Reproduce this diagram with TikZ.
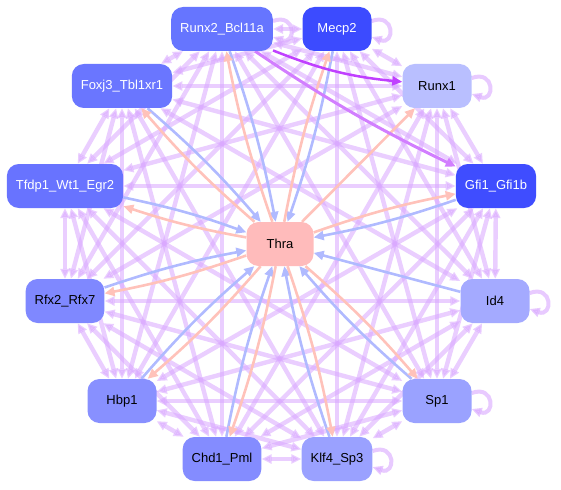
\documentclass[tikz,border=0pt]{standalone}
\usepackage{fontspec}
\setmainfont{Liberation Sans}
\usetikzlibrary{arrows.meta, backgrounds}

\definecolor{webc}{HTML}{D8A6FF}
\definecolor{upc}{HTML}{B0BAFF}
\definecolor{downc}{HTML}{FFC2BA}
\definecolor{strongc}{HTML}{C040FF}
\definecolor{midc}{HTML}{D27EFF}

\begin{document}
\begin{tikzpicture}[
  x=1pt, y=-1pt,
  font=\fontsize{13}{15}\selectfont,
  >={Triangle[length=10pt,width=9pt]},
  gene/.style    ={rounded corners=12pt, minimum height=44pt, minimum width=69pt, inner xsep=9pt, align=center},
  web/.style     ={draw=webc, line width=4.4pt, opacity=0.55, <->},
  selfloop/.style={draw=webc, line width=4pt, opacity=0.6, ->, looseness=4},
  toThra/.style  ={draw=upc, line width=2.6pt, ->},
  fromThra/.style={draw=downc, line width=2.6pt, ->},
]
\useasboundingbox (0,0) rectangle (561,489);

% ---------- ring of regulators ----------
\node[gene, fill={rgb,255:red,102;green,117;blue,255}, text=white] (runxb)  at (222,29)  {Runx2\_Bcl11a};
\node[gene, fill={rgb,255:red,60;green,75;blue,255},   text=white] (mecp)   at (337,29)  {Mecp2};
\node[gene, fill={rgb,255:red,185;green,191;blue,255}]             (runxa)  at (437,86)  {Runx1};
\node[gene, fill={rgb,255:red,63;green,77;blue,255},   text=white] (gfi)    at (496,186) {Gfi1\_Gfi1b};
\node[gene, fill={rgb,255:red,164;green,170;blue,255}]             (idfour) at (495,301) {Id4};
\node[gene, fill={rgb,255:red,154;green,162;blue,255}]             (spone)  at (437,401) {Sp1};
\node[gene, fill={rgb,255:red,154;green,161;blue,255}]             (klf)    at (337,459) {Klf4\_Sp3};
\node[gene, fill={rgb,255:red,132;green,140;blue,255}]             (chd)    at (222,459) {Chd1\_Pml};
\node[gene, fill={rgb,255:red,136;green,144;blue,255}]             (hbp)    at (122,401) {Hbp1};
\node[gene, fill={rgb,255:red,127;green,136;blue,255}]             (rfx)    at (65,301)  {Rfx2\_Rfx7};
\node[gene, fill={rgb,255:red,104;green,115;blue,255}, text=white] (tfdp)   at (65,186)  {Tfdp1\_Wt1\_Egr2};
\node[gene, fill={rgb,255:red,106;green,118;blue,255}, text=white] (foxj)   at (122,86)  {Foxj3\_Tbl1xr1};

% ---------- hub ----------
\node[gene, fill={rgb,255:red,255;green,187;blue,187}, minimum width=67pt] (thra) at (280,244) {Thra};

\begin{scope}[on background layer]
% mutual links round the ring (opposite pairs left out)
\foreach \a [count=\i] in {runxb,mecp,runxa,gfi,idfour,spone,klf,chd,hbp,rfx,tfdp,foxj}
  \foreach \b [count=\j] in {runxb,mecp,runxa,gfi,idfour,spone,klf,chd,hbp,rfx,tfdp,foxj}
  {
    \pgfmathtruncatemacro\gap{\j-\i}
    \ifnum\gap>0 \ifnum\gap=6 \else \draw[web] (\a) -- (\b); \fi\fi
  }

% self regulation
\foreach \g in {runxb,mecp,runxa,idfour,spone,klf}
  \draw[selfloop] ([yshift=8pt]\g.east) to[out=20, in=-20] ([yshift=-8pt]\g.east);

% hub links
\foreach \g in {runxb,mecp,gfi,spone,klf,chd,hbp,rfx,tfdp,foxj}
{
  \draw[toThra]   (\g)   to[bend left=4] (thra);
  \draw[fromThra] (thra) to[bend left=4] (\g);
}
\draw[fromThra] (thra) -- (runxa);
\draw[toThra]   (idfour) -- (thra);

% strong links
\draw[->, draw=strongc, line width=2.5pt] (runxb) to[bend right=8] (runxa);
\draw[->, draw=midc, line width=3pt] (runxb) to[bend right=4] (gfi);
\end{scope}

\end{tikzpicture}
\end{document}
